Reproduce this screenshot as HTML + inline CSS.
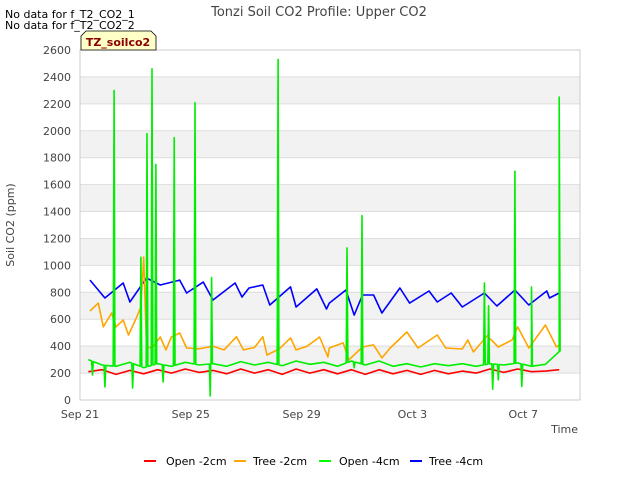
<!DOCTYPE html>
<html><head><meta charset="utf-8"><style>
body{margin:0;background:#fff;font-family:"Liberation Sans","DejaVu Sans",sans-serif}
svg text{font-family:"DejaVu Sans","Liberation Sans",sans-serif}
</style></head><body>
<svg id="chart" width="640" height="480" xmlns="http://www.w3.org/2000/svg">
<rect width="640" height="480" fill="#fff"/>
<text x="5" y="18" font-size="11" fill="#000">No data for f_T2_CO2_1</text>
<text x="5" y="29" font-size="11" fill="#000">No data for f_T2_CO2_2</text>
<text x="319" y="16" font-size="13" fill="#444" text-anchor="middle">Tonzi Soil CO2 Profile: Upper CO2</text>
<g id="bands"></g>
<g id="grid"></g>
<rect x="80" y="50" width="500" height="350" fill="none" stroke="#ccc"/>
<g id="yt"></g>
<g id="xt"></g>
<g id="series"></g>
<text x="14" y="225" font-size="11" fill="#444" text-anchor="middle" transform="rotate(-90 14 225)">Soil CO2 (ppm)</text>
<text x="578" y="433" font-size="11" fill="#444" text-anchor="end">Time</text>
<g>
<path d="M81,50 V36 L86,31 H151 L156,36 V50 Z" fill="#ffffc8" stroke="#000" stroke-width="0.8"/>
<text x="118" y="46" font-size="11" font-weight="bold" fill="#8b0000" text-anchor="middle">TZ_soilco2</text>
</g>
<g>
<g><line x1="144" y1="461" x2="156" y2="461" stroke="#f00" stroke-width="2"/><text x="166" y="465" font-size="11" fill="#000">Open -2cm</text></g>
<g><line x1="234" y1="461" x2="246" y2="461" stroke="#ffa500" stroke-width="2"/><text x="253" y="465" font-size="11" fill="#000">Tree -2cm</text></g>
<g><line x1="319" y1="461" x2="331" y2="461" stroke="#0f0" stroke-width="2"/><text x="339" y="465" font-size="11" fill="#000">Open -4cm</text></g>
<g><line x1="410" y1="461" x2="422" y2="461" stroke="#00f" stroke-width="2"/><text x="429" y="465" font-size="11" fill="#000">Tree -4cm</text></g>
</g>
</svg>
<script>
const yTicks=[0,200,400,600,800,1000,1200,1400,1600,1800,2000,2200,2400,2600];
const xTickDays=[0,4,8,12,16];
const xTickLabels=["Sep 21","Sep 25","Sep 29","Oct 3","Oct 7"];
const baseDays=[0.3,0.8,1.3,1.8,2.3,2.8,3.3,3.8,4.3,4.8,5.3,5.8,6.3,6.8,7.3,7.8,8.3,8.8,9.3,9.8,10.3,10.8,11.3,11.8,12.3,12.8,13.3,13.8,14.3,14.8,15.3,15.8,16.3,16.8,17.3];
const openShallow=[210,225,190,220,195,225,200,230,205,220,195,230,200,225,190,230,200,225,195,225,190,225,195,220,190,220,195,215,200,230,205,230,210,215,225];
const openDeepBase=[300,260,250,280,240,270,250,280,260,270,250,285,260,280,255,290,265,280,250,290,260,290,250,270,245,270,255,270,250,270,260,275,250,265,360];
const openDeepSpikeDays=[0.45,0.9,1.23,1.9,2.2,2.42,2.6,2.74,3.0,3.4,4.15,4.7,4.75,7.15,9.64,9.9,10.18,14.6,14.75,14.9,15.1,15.7,15.95,16.3,17.3];
const openDeepSpikeVals=[186,97,2300,89,1060,1980,2460,1750,134,1950,2210,30,910,2530,1130,240,1370,870,700,80,150,1700,100,840,2250];
const treeShallowDays=[0.36,0.66,0.84,1.14,1.3,1.56,1.75,2.0,2.2,2.3,2.4,2.6,2.9,3.1,3.3,3.6,3.85,4.3,4.8,5.2,5.65,5.9,6.3,6.6,6.75,7.2,7.6,7.8,8.2,8.65,8.95,9.0,9.5,9.7,10.2,10.6,10.9,11.2,11.8,12.2,12.9,13.2,13.8,14.0,14.2,14.7,15.1,15.6,15.8,16.2,16.8,17.2,17.3];
const treeShallow=[661,720,543,646,543,594,483,594,691,1062,394,386,468,372,468,498,386,380,400,372,470,372,390,470,334,380,461,372,400,468,320,386,424,297,394,409,312,386,505,386,483,386,379,446,357,476,394,446,543,386,557,394,409];
const treeDeepDays=[0.36,0.9,1.56,1.8,2.4,2.9,3.6,3.85,4.45,4.8,5.6,5.85,6.1,6.6,6.85,7.6,7.8,8.55,8.9,9.0,9.6,9.9,10.2,10.6,10.9,11.55,11.9,12.6,12.9,13.4,13.8,14.6,15.05,15.7,16.2,16.85,16.95,17.3];
const treeDeep=[891,758,869,728,906,854,891,795,876,743,869,765,832,854,706,840,691,825,676,720,817,631,780,780,646,832,720,810,728,795,691,795,698,817,706,810,758,795];

const NS='http://www.w3.org/2000/svg';
const X0=80,X1=580,Y0=400,Y1=50,DMAX=18.05,VMAX=2600;
const xs=d=>X0+d/DMAX*(X1-X0);
const ys=v=>Y0-v/VMAX*(Y0-Y1);
function mk(tag,attrs,parent){const e=document.createElementNS(NS,tag);for(const k in attrs)e.setAttribute(k,attrs[k]);parent.appendChild(e);return e;}
const bands=document.getElementById('bands'),grid=document.getElementById('grid'),yt=document.getElementById('yt'),xt=document.getElementById('xt'),ser=document.getElementById('series');
for(let i=0;i<yTicks.length;i++){
  const v=yTicks[i];
  if(i%2===1&&i<yTicks.length-1){const b=mk('rect',{x:X0,y:ys(yTicks[i+1]),width:X1-X0,height:ys(v)-ys(yTicks[i+1]),fill:'#f2f2f2'},bands);
    
    }
  const l=mk('line',{x1:X0,x2:X1,y1:ys(v),y2:ys(v),stroke:'#ddd','stroke-width':1},grid);
  
  
  const t=mk('text',{x:X0-9,y:ys(v)+4,'font-size':11,fill:'#444','text-anchor':'end'},yt);
  t.textContent=v;
  
  
}
xTickDays.forEach((d,i)=>{
  const t=mk('text',{x:xs(d),y:418,'font-size':11,fill:'#444','text-anchor':'middle'},xt);
  t.textContent=xTickLabels[i];
  
  
});
function interp(ds,vs,d){if(d<=ds[0])return vs[0];for(let i=1;i<ds.length;i++){if(d<=ds[i]){const f=(d-ds[i-1])/(ds[i]-ds[i-1]);return vs[i-1]+f*(vs[i]-vs[i-1]);}}return vs[vs.length-1];}
function line(ds,vs,color,name){
  const p=ds.map((d,i)=>(i?'L':'M')+xs(d).toFixed(1)+','+ys(vs[i]).toFixed(1)).join('');
  const e=mk('path',{d:p,fill:'none',stroke:color,'stroke-width':1.6,'stroke-linejoin':'round'},ser);
  
  
}
// merge spikes into open -4cm
let gPts=baseDays.map((d,i)=>[d,openDeepBase[i]]);
openDeepSpikeDays.forEach((d,i)=>{
  gPts.push([d-0.03,interp(baseDays,openDeepBase,d-0.03)]);
  gPts.push([d,openDeepSpikeVals[i]]);
  gPts.push([d+0.03,interp(baseDays,openDeepBase,d+0.03)]);
});
gPts.sort((a,b)=>a[0]-b[0]);
line(treeDeepDays,treeDeep,'#0000ff','series-tree-4cm');
line(treeShallowDays,treeShallow,'#ffa500','series-tree-2cm');
line(baseDays,openShallow,'#ff0000','series-open-2cm');
line(gPts.map(p=>p[0]),gPts.map(p=>p[1]),'#00ee00','series-open-4cm');
</script>
</body></html>
